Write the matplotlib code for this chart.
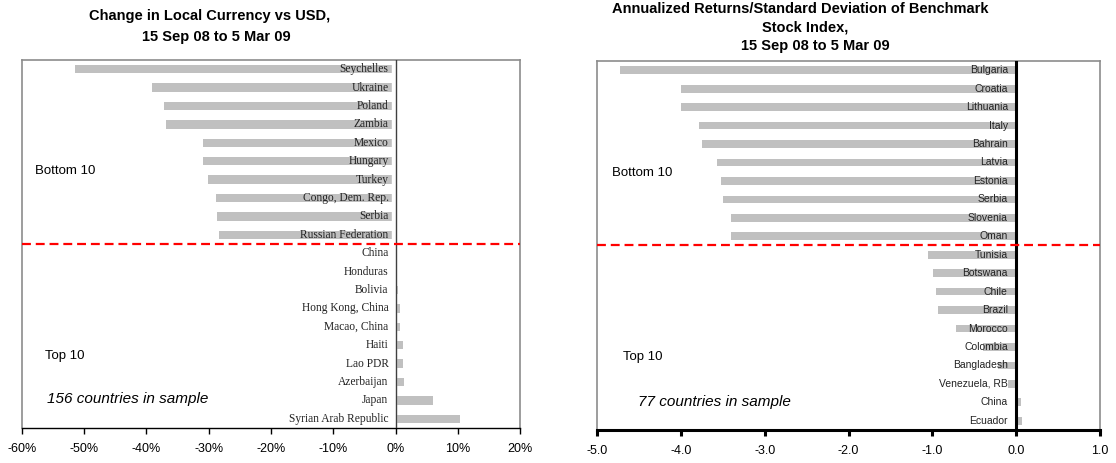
import matplotlib
matplotlib.use("Agg")
import matplotlib.pyplot as plt
from matplotlib.ticker import FuncFormatter

plt.rcParams['font.family'] = ['Liberation Sans', 'DejaVu Sans']

# ---- Left chart data: change in local currency vs USD (%) ----
fx_countries = ["Seychelles", "Ukraine", "Poland", "Zambia", "Mexico", "Hungary",
                "Turkey", "Congo, Dem. Rep.", "Serbia", "Russian Federation",
                "China", "Honduras", "Bolivia", "Hong Kong, China", "Macao, China",
                "Haiti", "Lao PDR", "Azerbaijan", "Japan", "Syrian Arab Republic"]
fx_values = [-51.5, -39.1, -37.2, -36.8, -30.9, -30.9, -30.1, -28.8, -28.7, -28.4,
             0.05, 0.1, 0.4, 0.65, 0.65, 1.2, 1.2, 1.4, 6.1, 10.3]
fx_ticks = [-60, -50, -40, -30, -20, -10, 0, 10, 20]

# ---- Right chart data: annualized return / std dev of benchmark stock index ----
sx_countries = ["Bulgaria", "Croatia", "Lithuania", "Italy", "Bahrain", "Latvia",
                "Estonia", "Serbia", "Slovenia", "Oman",
                "Tunisia", "Botswana", "Chile", "Brazil", "Morocco", "Colombia",
                "Bangladesh", "Venezuela, RB", "China", "Ecuador"]
sx_values = [-4.72, -4.00, -4.00, -3.78, -3.75, -3.57, -3.52, -3.50, -3.40, -3.40,
             -1.05, -0.99, -0.96, -0.93, -0.72, -0.40, -0.22, -0.10, 0.06, 0.07]
sx_ticks = [-5.0, -4.0, -3.0, -2.0, -1.0, 0.0, 1.0]

W, H = 1116, 463
fig = plt.figure(figsize=(W / 100, H / 100), dpi=100)

def px_axes(x0, x1, ytop, ybot):
    return fig.add_axes([x0 / W, (H - ybot) / H, (x1 - x0) / W, (ybot - ytop) / H])

bar_color = "#C0C0C0"

def style_axes(ax, zero_lw, bottom_lw, zero_color):
    for s in ["left", "top", "right"]:
        ax.spines[s].set_color("#8C8C8C")
        ax.spines[s].set_linewidth(1.2)
    ax.spines["bottom"].set_color("black")
    ax.spines["bottom"].set_linewidth(bottom_lw)
    ax.tick_params(axis="y", left=False, labelleft=False)
    ax.tick_params(axis="x", direction="out", length=4, width=bottom_lw,
                   color="black", labelsize=9, pad=7)
    ax.axvline(0, color=zero_color, lw=zero_lw, zorder=4)
    ax.axhline(9.5, color="red", lw=1.6, linestyle=(0, (4, 2.2)), zorder=5,
               clip_on=False)

# ---- Left chart ----
axL = px_axes(22, 520, 60, 428)
yL = list(range(len(fx_countries)))
axL.barh(yL, fx_values, height=0.45, color=bar_color, zorder=1)
axL.axvspan(-0.6, 0, color="white", zorder=2)
axL.set_xlim(fx_ticks[0], fx_ticks[-1])
axL.set_ylim(len(fx_countries) - 0.5, -0.5)
axL.set_xticks(fx_ticks)
axL.xaxis.set_major_formatter(FuncFormatter(lambda v, p: f"{v:.0f}%"))
style_axes(axL, 1.0, 1.0, "#404040")
for y, name in zip(yL, fx_countries):
    axL.annotate(name, xy=(0, y), xytext=(-5, 0), textcoords="offset points",
                 ha="right", va="center", fontsize=8.3,
                 family=["Liberation Serif", "DejaVu Serif"], color="#222222", zorder=3)
axL.text(0.026, 0.698, "Bottom 10", transform=axL.transAxes, fontsize=9.5,
         va="center", ha="left")
axL.text(0.046, 0.196, "Top 10", transform=axL.transAxes, fontsize=9.5,
         va="center", ha="left")
axL.text(0.05, 0.079, "156 countries in sample", transform=axL.transAxes,
         fontsize=11, style="italic", va="center", ha="left")

fig.text(210 / W, 1 - 16 / H, "Change in Local Currency vs USD,", ha="center",
         va="center", fontsize=10.5, fontweight="bold")
fig.text(216 / W, 1 - 37 / H, "15 Sep 08 to 5 Mar 09", ha="center",
         va="center", fontsize=10.5, fontweight="bold")

# ---- Right chart ----
axR = px_axes(597, 1100, 61, 430)
yR = list(range(len(sx_countries)))
axR.barh(yR, sx_values, height=0.42, color=bar_color, zorder=1)
axR.set_xlim(sx_ticks[0], sx_ticks[-1])
axR.set_ylim(len(sx_countries) - 0.5, -0.5)
axR.set_xticks(sx_ticks)
axR.xaxis.set_major_formatter(FuncFormatter(lambda v, p: f"{v:.1f}"))
style_axes(axR, 2.2, 2.2, "black")
for y, name in zip(yR, sx_countries):
    axR.annotate(name, xy=(0, y), xytext=(-6, 0), textcoords="offset points",
                 ha="right", va="center", fontsize=7.5, color="#222222", zorder=3)
axR.text(0.030, 0.696, "Bottom 10", transform=axR.transAxes, fontsize=9.5,
         va="center", ha="left")
axR.text(0.052, 0.198, "Top 10", transform=axR.transAxes, fontsize=9.5,
         va="center", ha="left")
axR.text(0.0815, 0.076, "77 countries in sample", transform=axR.transAxes,
         fontsize=11, style="italic", va="center", ha="left")

fig.text(800 / W, 1 - 9 / H, "Annualized Returns/Standard Deviation of Benchmark",
         ha="center", va="center", fontsize=10.5, fontweight="bold")
fig.text(805 / W, 1 - 28 / H, "Stock Index,", ha="center", va="center",
         fontsize=10.5, fontweight="bold")
fig.text(815 / W, 1 - 46 / H, "15 Sep 08 to 5 Mar 09", ha="center", va="center",
         fontsize=10.5, fontweight="bold")

fig.savefig("out.png", dpi=100, facecolor="white")
